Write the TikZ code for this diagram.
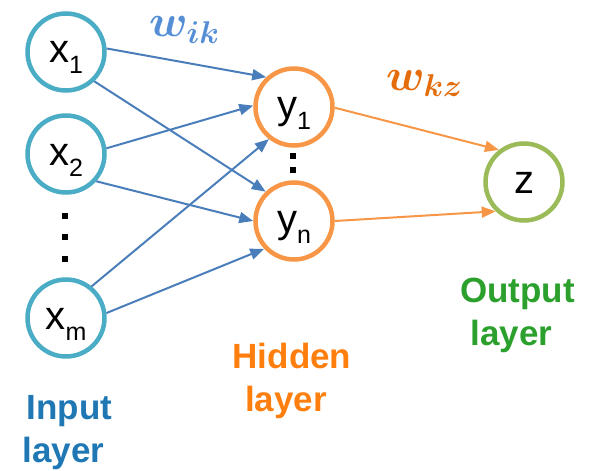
\RequirePackage{fix-cm}
\documentclass[tikz,border=0pt]{standalone}
\usepackage{fontspec}
\setmainfont{Liberation Sans}
\usetikzlibrary{arrows.meta}

\definecolor{inring}{HTML}{4BACC6}
\definecolor{hidring}{HTML}{F79646}
\definecolor{outring}{HTML}{9BBB59}
\definecolor{inwire}{HTML}{4A7EBB}
\definecolor{outwire}{HTML}{F79646}
\definecolor{wikcol}{HTML}{558ED5}
\definecolor{wkzcol}{HTML}{E46C0A}
\definecolor{intext}{HTML}{1F77B4}
\definecolor{hidtext}{HTML}{FF7F0E}
\definecolor{outtext}{HTML}{2CA02C}

% lowered index after a neuron letter
\newcommand\nsub[1]{\raisebox{-11pt}{\fontsize{25}{25}\selectfont #1}}

\begin{document}
\begin{tikzpicture}[x=1pt,y=-1pt,
  neuron/.style={circle, line width=4.5pt, minimum size=77pt, inner sep=0pt,
    text height=33pt, text depth=11pt, font=\fontsize{40}{40}\selectfont},
  inneuron/.style={neuron, draw=inring},
  hidneuron/.style={neuron, draw=hidring},
  outneuron/.style={neuron, draw=outring},
  dotmark/.style={rectangle, fill=black, inner sep=0pt, minimum size=6pt},
  wire/.style={line width=2pt, -{Triangle[length=14pt,width=11pt]}},
  inw/.style={wire, draw=inwire, fill=inwire},
  outw/.style={wire, draw=outwire, fill=outwire},
  layerlabel/.style={align=center, inner sep=0pt,
    font=\fontsize{35}{43}\selectfont\bfseries},
  weight/.style={anchor=base west, inner sep=0pt,
    font=\fontsize{45}{45}\selectfont\boldmath},
]
\useasboundingbox (0,0) rectangle (590,471);

% neurons
\node[inneuron]  (x1) at (66,52)  {x\nsub{1}};
\node[inneuron]  (x2) at (66,154) {x\nsub{2}};
\node[inneuron]  (xm) at (66,318) {x\nsub{m}};
\node[hidneuron] (y1) at (294,107) {y\nsub{1}};
\node[hidneuron] (yn) at (294,221) {y\nsub{n}};
\node[outneuron] (z)  at (524,182) {z};

% ellipses
\node[dotmark] (xd1) at (65,216) {};
\node[dotmark] (xd2) at (65,237) {};
\node[dotmark] (xd3) at (65,259) {};
\node[dotmark, minimum size=5.5pt] (yd1) at (293,156) {};
\node[dotmark, minimum size=5.5pt] (yd2) at (293,170) {};

% input -> hidden
\draw[inw] (x1.5)   -- (y1.133);
\draw[inw] (x1.-46) -- (yn.134);
\draw[inw] (x2.8)   -- (y1.178);
\draw[inw] (x2.-42) -- (yn.180);
\draw[inw] (xm.51)  -- (y1.232);
\draw[inw] (xm.7)   -- (yn.223);

% hidden -> output
\draw[outw] (y1.-1) -- (z.128);
\draw[outw] (yn.0)  -- (z.226);

% weights
\node[weight, text=wikcol] (wik) at (149,37) {$w_{ik}$};
\node[weight, text=wkzcol] (wkz) at (386,90) {$w_{kz}$};

% layer names
\node[layerlabel, text=intext]  (lin)  at (69.5,433) {Input\\layer\hspace*{12pt}};
\node[layerlabel, text=hidtext] (lhid) at (292,381) {Hidden\\layer\hspace*{12pt}};
\node[layerlabel, text=outtext] (lout) at (517.5,315) {Output\\layer\hspace*{12pt}};
\end{tikzpicture}
\end{document}
